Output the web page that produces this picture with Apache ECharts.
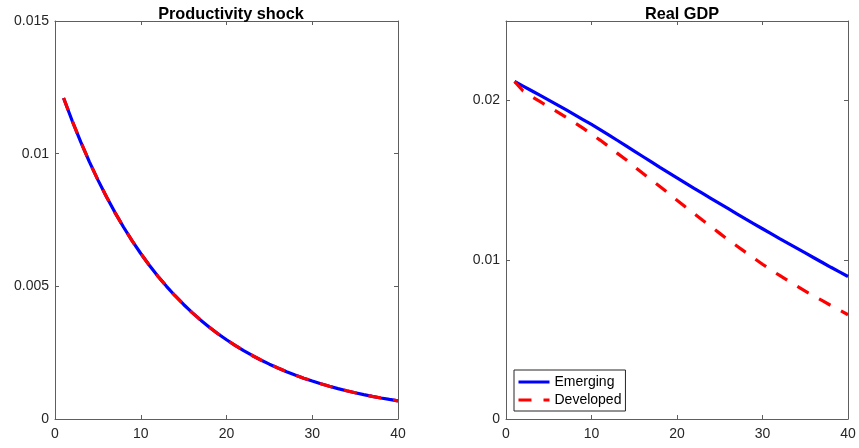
<!DOCTYPE html>
<html><head><meta charset="utf-8">
<script src="https://cdn.jsdelivr.net/npm/echarts@6/dist/echarts.min.js"></script>
<style>html,body{margin:0;padding:0;background:#fff}#c{width:859px;height:448px}</style>
</head><body><div id="c"></div>
<script>
const periods = [1,2,3,4,5,6,7,8,9,10,11,12,13,14,15,16,17,18,19,20,21,22,23,24,25,26,27,28,29,30,31,32,33,34,35,36,37,38,39,40];
const productivityShock = [0.01210,0.011241,0.010443,0.009702,0.009013,0.008373,0.007779,0.007227,0.006714,0.006237,
  0.005794,0.005383,0.005001,0.004646,0.004316,0.004009,0.003725,0.003460,0.003215,0.002986,
  0.002774,0.002577,0.002394,0.002224,0.002066,0.001920,0.001783,0.001657,0.001539,0.001430,
  0.001328,0.001234,0.001146,0.001065,0.000989,0.000919,0.000854,0.000793,0.000737,0.000685];
const gdpEmerging = [0.02120,0.02091,0.02062,0.02033,0.02003,0.01973,0.01943,0.01912,0.01881,0.01850,
  0.01818,0.01785,0.01751,0.01717,0.01683,0.01649,0.01615,0.01581,0.01548,0.01515,
  0.01482,0.01449,0.01417,0.01385,0.01353,0.01321,0.01289,0.01257,0.01226,0.01195,
  0.01164,0.01133,0.01103,0.01073,0.01043,0.01013,0.00983,0.00953,0.00924,0.00895];
const gdpDeveloped = [0.02120,0.02060,0.02025,0.01993,0.01961,0.01929,0.01896,0.01862,0.01827,0.01790,
  0.01752,0.01712,0.01670,0.01630,0.01586,0.01543,0.01501,0.01460,0.01418,0.01374,
  0.01332,0.01290,0.01248,0.01207,0.01166,0.01125,0.01087,0.01048,0.01010,0.00972,
  0.00936,0.00902,0.00868,0.00835,0.00803,0.00772,0.00743,0.00713,0.00684,0.00655];
const xTicks = [0,10,20,30,40];
const prodTicks = [0,0.005,0.01,0.015];
const gdpTicks = [0,0.01,0.02];
const titles = ['Productivity shock','Real GDP'];
const seriesNames = ['Emerging','Developed'];

const FONT = 'Liberation Sans, Arial, Helvetica, sans-serif';
const AX = '#5e5e5e';
const TXT = '#262626';
const pairs = arr => periods.map((p,i)=>[p,arr[i]]);

function xAx(grid, top){
  return {type:'value', gridIndex:grid, position: top?'top':'bottom', min:xTicks[0], max:xTicks[xTicks.length-1], interval:10,
    axisLine:{show:true,onZero:false,lineStyle:{color:AX,width:1}},
    axisTick:{show:true,inside:true,length:4,lineStyle:{color:AX}},
    axisLabel:{show:!top,color:TXT,fontSize:14,fontFamily:FONT,margin:8},
    splitLine:{show:false}};
}
function yAx(grid, right, ticks, interval, max){
  return {type:'value', gridIndex:grid, position: right?'right':'left', min:0, max:max, interval:interval,
    axisLine:{show:true,onZero:false,lineStyle:{color:AX,width:1}},
    axisTick:{show:true,inside:true,length:4,lineStyle:{color:AX}},
    axisLabel:{show:!right,color:TXT,fontSize:14,fontFamily:FONT,margin:6,
      formatter: v => ticks.some(t=>Math.abs(t-v)<1e-9) ? String(+v.toFixed(4)) : ''},
    splitLine:{show:false}};
}
function line(name, data, xi, yi, dashed){
  return {type:'line', name:name, xAxisIndex:xi, yAxisIndex:yi, data:pairs(data), showSymbol:false, symbol:'none',
    z: dashed?3:2,
    lineStyle:{color: dashed?'#ff0000':'#0000ff', width:3.2, type: dashed?[13,12]:'solid', cap:'butt'},
    itemStyle:{color: dashed?'#ff0000':'#0000ff'}};
}
const chart = echarts.init(document.getElementById('c'), null, {renderer:'canvas'});
chart.setOption({
  animation:false,
  backgroundColor:'#ffffff',
  title:[
    {text:titles[0], left:226, top:2, textAlign:'center', textStyle:{fontFamily:FONT,fontWeight:'bold',fontSize:16.3,color:'#000'}},
    {text:titles[1], left:677, top:2, textAlign:'center', textStyle:{fontFamily:FONT,fontWeight:'bold',fontSize:16.3,color:'#000'}}
  ],
  grid:[
    {left:55, right:461, top:21, bottom:29, containLabel:false},
    {left:506, right:11, top:21, bottom:29, containLabel:false}
  ],
  xAxis:[xAx(0,false), xAx(0,true), xAx(1,false), xAx(1,true)],
  yAxis:[yAx(0,false,prodTicks,0.005,0.015), yAx(0,true,prodTicks,0.005,0.015), yAx(1,false,gdpTicks,0.01,0.025), yAx(1,true,gdpTicks,0.01,0.025)],
  legend:{data:seriesNames, orient:'vertical', left:514, top:370, padding:[5,4,4,3], itemGap:4, itemWidth:31, itemHeight:14,
    backgroundColor:'#fff', borderColor:'#262626', borderWidth:1, borderRadius:0,
    itemStyle:{opacity:0},
    lineStyle:{width:3},
    textStyle:{fontFamily:FONT,fontSize:14,color:'#000'}},
  series:[
    line(seriesNames[0], productivityShock, 0, 0, false),
    line(seriesNames[1], productivityShock, 0, 0, true),
    line(seriesNames[0], gdpEmerging, 2, 2, false),
    line(seriesNames[1], gdpDeveloped, 2, 2, true)
  ]
});
</script></body></html>
